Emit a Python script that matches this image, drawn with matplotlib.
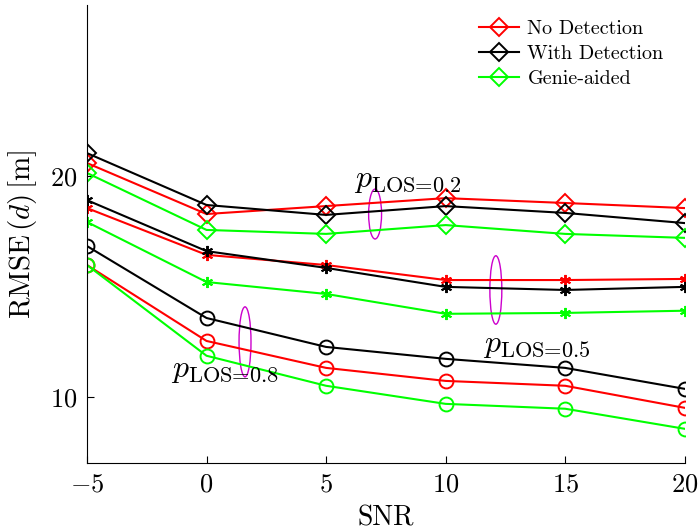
import matplotlib
matplotlib.use("Agg")
import matplotlib.pyplot as plt
from matplotlib.patches import Ellipse

plt.rcParams["font.family"] = "cmr10"
plt.rcParams["mathtext.fontset"] = "cm"
plt.rcParams["axes.formatter.use_mathtext"] = True

snr = [-5, 0, 5, 10, 15, 20]

# p_LOS = 0.2 (diamonds)
no_det_02 = [20.59, 18.28, 18.64, 19.0, 18.78, 18.55]
with_det_02 = [21.04, 18.69, 18.24, 18.64, 18.33, 17.87]
genie_02 = [20.14, 17.56, 17.38, 17.78, 17.38, 17.2]

# p_LOS = 0.5 (stars)
no_det_05 = [18.55, 16.43, 15.97, 15.29, 15.29, 15.34]
with_det_05 = [18.91, 16.6, 15.84, 14.98, 14.84, 14.98]
genie_05 = [17.92, 15.2, 14.66, 13.76, 13.8, 13.9]

# p_LOS = 0.8 (circles)
no_det_08 = [15.97, 12.53, 11.31, 10.72, 10.5, 9.5]
with_det_08 = [16.83, 13.57, 12.26, 11.72, 11.31, 10.36]
genie_08 = [15.97, 11.86, 10.5, 9.68, 9.46, 8.55]

red = "#ff0000"
green = "#00ff00"
black = "#000000"

fig = plt.figure(figsize=(6.98, 5.31), dpi=100)
ax = fig.add_axes([0.1246, 0.128, 0.8564, 0.8626])

lw = 1.5
kw_d = dict(marker="D", markersize=9, markerfacecolor="none", markeredgewidth=1.4, lw=lw)
kw_s = dict(marker=(6, 2, 0), markersize=8, markeredgewidth=1.4, lw=lw)
kw_o = dict(marker="o", markersize=10, markerfacecolor="none", markeredgewidth=1.4, lw=lw)

ax.plot(snr, no_det_02, color=red, label="No Detection", **kw_d)
ax.plot(snr, with_det_02, color=black, label="With Detection", **kw_d)
ax.plot(snr, genie_02, color=green, label="Genie-aided", **kw_d)

ax.plot(snr, no_det_05, color=red, **kw_s)
ax.plot(snr, with_det_05, color=black, **kw_s)
ax.plot(snr, genie_05, color=green, **kw_s)

ax.plot(snr, no_det_08, color=red, **kw_o)
ax.plot(snr, with_det_08, color=black, **kw_o)
ax.plot(snr, genie_08, color=green, **kw_o)

# group ellipses
for (cx, cy, w, h) in [(7.05, 18.28, 0.54, 2.26), (12.1, 14.84, 0.5, 3.1), (1.61, 12.49, 0.5, 3.17)]:
    ax.add_patch(Ellipse((cx, cy), w, h, fill=False, edgecolor="#cc00cc", lw=1.0))

ax.text(6.15, 19.75, r"$p_{\text{LOS=0.2}}$", fontsize=23, va="center", ha="left")
ax.text(11.55, 12.3, r"$p_{\text{LOS=0.5}}$", fontsize=23, va="center", ha="left")
ax.text(-1.5, 11.15, r"$p_{\text{LOS=0.8}}$", fontsize=23, va="center", ha="left")

ax.set_xlim(-5, 20)
ax.set_ylim(7, 27.75)
ax.set_xticks([-5, 0, 5, 10, 15, 20])
ax.set_yticks([10, 20])
ax.tick_params(direction="in", labelsize=19, length=5, width=0.8, pad=7, top=False, right=False)
ax.spines["top"].set_visible(False)
ax.spines["right"].set_visible(False)

ax.set_xlabel("SNR", fontsize=20, labelpad=6)
ax.set_ylabel(r"RMSE$\,(d)\,$[m]", fontsize=21, labelpad=8)

ax.legend(loc="upper right", frameon=False, fontsize=14.5, handlelength=2.0,
          labelspacing=0.35, handletextpad=0.4, bbox_to_anchor=(0.995, 1.008))

fig.savefig("out.png", dpi=100)
